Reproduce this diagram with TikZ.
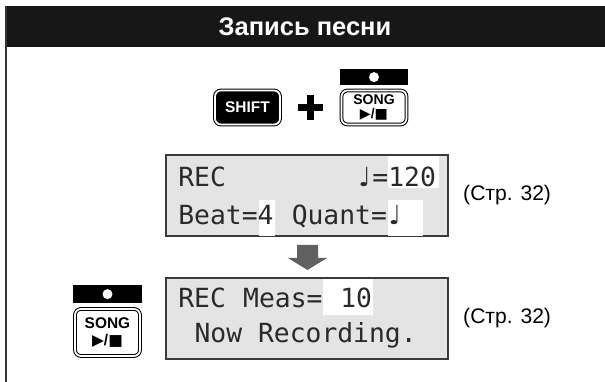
\documentclass[tikz,border=0pt]{standalone}
\usepackage{fontspec}
\setmainfont{Liberation Sans}
\newfontfamily\lcdfont{DejaVu Sans Mono}
\newfontfamily\symfont{DejaVu Sans}
\usetikzlibrary{positioning}
\definecolor{hdrblack}{HTML}{171717}
\definecolor{lcdgrey}{HTML}{E4E4E4}
\definecolor{lcdedge}{HTML}{3A3A3A}
\definecolor{lcdink}{HTML}{2A2A2A}
\definecolor{arrowgrey}{HTML}{606060}
\newcommand\qnote{\makebox[0.602em]{\symfont ♩}}
\newcommand\playstop{{\symfont ▶}/{\symfont ■}}

\begin{document}
\begin{tikzpicture}[x=0.2mm, y=-0.2mm,
    lcd/.style={draw=lcdedge, line width=0.35mm, fill=lcdgrey,
                minimum width=56.4mm, minimum height=16.2mm, inner sep=0pt},
    lcdtxt/.style={anchor=base west, inner sep=0pt, text=lcdink,
                   font=\lcdfont\fontsize{15}{18}\selectfont},
    btn/.style={draw=black, line width=0.2mm, double=white, double distance=0.35mm,
                rounded corners=1.2mm, minimum width=13.0mm, inner sep=0pt,
                align=center, font=\bfseries\fontsize{8.8}{8.8}\selectfont},
    recbar/.style={fill=black, minimum width=13.6mm, minimum height=3.2mm, inner sep=0pt},
    recdot/.style={circle, fill=white, minimum size=2.0mm, inner sep=0pt},
    pageref/.style={inner sep=0pt, font=\fontsize{12}{14}\selectfont}]
  \useasboundingbox (0,0) rectangle (605,382);
  \fill[hdrblack] (5,6) rectangle (605,47);
  \draw[black!80, line width=0.4mm] (6,6) -- (6,382);
  \node[text=white, font=\bfseries\fontsize{14.5}{16}\selectfont] (title) at (305,27) {Запись песни};

  \node[btn, fill=black, text=white, minimum height=6.8mm] (shift) at (247.5,107.5) {SHIFT};
  \draw[line width=1.3mm] (298,107.5) -- (323,107.5) (310.5,95) -- (310.5,120);
  \node[btn, fill=white, minimum height=6.8mm, font=\bfseries\fontsize{8}{7.6}\selectfont]
        (songA) at (374,107.5) {SONG\\\playstop};
  \node[recbar, above=0.9mm of songA] (recA) {};
  \node[recdot] (dotA) at (recA) {};

  \node[lcd] (lcdA) at (307,195.5) {};
  \fill[white] (388,156) rectangle (439,188);
  \fill[white] (259,200) rectangle (275,236);
  \fill[white] (388,200) rectangle (423,236);
  \node[pageref, right=2.8mm of lcdA] (refA) {(Стр. 32)};

  \fill[arrowgrey, shift={(307.5,257.5)}]
        (-10.5,-12.5) -- (10.5,-12.5) -- (10.5,0.5) -- (19.5,0.5)
        -- (0,12.5) -- (-19.5,0.5) -- (-10.5,0.5) -- cycle;

  \node[lcd] (lcdB) at (307,318.5) {};
  \fill[white] (323,279) rectangle (373,315);
  \node[pageref, right=2.8mm of lcdB] (refB) {(Стр. 32)};

  \foreach \c/\r/\t [count=\i] in {0/187/REC, 11/187/\qnote=120, 0/225/Beat=4,
      7/225/Quant=\qnote, 0/308/REC, 4/308/Meas=, 10/308/10, 1/343/Now Recording.}
    \node[lcdtxt] (row\i) at (178+16.2*\c,\r) {\t};

  \node[btn, fill=white, minimum height=9.4mm] (songB) at (107.5,332.5) {SONG\\[1pt]\playstop};
  \node[recbar, minimum height=3.6mm, above=1.0mm of songB] (recB) {};
  \node[recdot] (dotB) at (recB) {};
\end{tikzpicture}
\end{document}
